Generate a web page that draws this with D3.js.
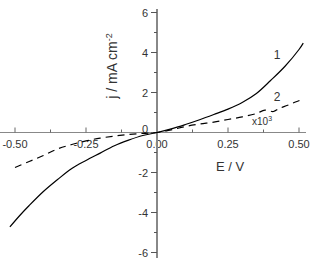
<!DOCTYPE html>
<html>
<head>
<meta charset="utf-8">
<script src="https://cdn.jsdelivr.net/npm/d3@7"></script>
<style>
  body { margin: 0; background: #fff; }
  svg text { font-family: "Liberation Sans", Arial, sans-serif; fill: #333; }
</style>
</head>
<body>
<svg id="chart"></svg>
<script>
let w = 313;
let h = 258;

// curve 1 (solid) and curve 2 (dashed, x10^3)
let e1 = [-0.518, -0.48, -0.45, -0.40, -0.35, -0.30, -0.25, -0.20, -0.15, -0.10, -0.05, 0, 0.05, 0.10, 0.15, 0.20, 0.25, 0.30, 0.35, 0.40, 0.45, 0.50, 0.515];
let j1 = [-4.72, -4.1, -3.65, -2.95, -2.35, -1.8, -1.4, -1.03, -0.66, -0.38, -0.15, 0, 0.18, 0.4, 0.64, 0.9, 1.17, 1.5, 1.95, 2.6, 3.3, 4.15, 4.47];
let e2 = [-0.50, -0.45, -0.40, -0.35, -0.30, -0.25, -0.20, -0.15, -0.10, -0.05, 0, 0.05, 0.10, 0.15, 0.20, 0.25, 0.30, 0.35, 0.38, 0.41, 0.43, 0.46, 0.49, 0.515];
let j2 = [-1.75, -1.45, -1.15, -0.82, -0.6, -0.42, -0.28, -0.18, -0.1, -0.04, 0, 0.13, 0.3, 0.42, 0.52, 0.65, 0.78, 0.95, 1.12, 1.05, 1.2, 1.36, 1.54, 1.67];

let xTicks = [-0.5, -0.25, 0, 0.25, 0.5];
let xMinor = [-0.375, -0.125, 0.125, 0.375];
let yTicks = [-6, -4, -2, 0, 2, 4, 6];
let yMinor = [-5, -3, -1, 1, 3, 5];

let x = d3.scaleLinear().domain([-0.5, 0.5]).range([15, 299]);
let y = d3.scaleLinear().domain([-6, 6]).range([252.5, 12.5]);

let svg = d3.select('#chart')
    .attr('width', w)
    .attr('height', h);

// x axis (ticks pointing up, labels below)
let gx = svg.append('g')
    .attr('transform', `translate(0, ${y(0)})`);
gx.append('line')
    .attr('x1', 0).attr('x2', 306)
    .attr('stroke', '#888').attr('stroke-width', 1);
gx.selectAll('.maj').data(xTicks).enter().append('line')
    .attr('x1', d => x(d)).attr('x2', d => x(d))
    .attr('y1', 0).attr('y2', -5)
    .attr('stroke', '#666');
gx.selectAll('.min').data(xMinor).enter().append('line')
    .attr('x1', d => x(d)).attr('x2', d => x(d))
    .attr('y1', 0).attr('y2', -3)
    .attr('stroke', '#666');
gx.selectAll('text').data(xTicks).enter().append('text')
    .attr('x', d => x(d))
    .attr('y', 15)
    .attr('text-anchor', 'middle')
    .attr('font-size', 11)
    .text(d => d3.format('.2f')(d).replace('−', '-'));

// y axis (ticks left)
let gy = svg.append('g')
    .attr('transform', `translate(${x(0)}, 0)`);
gy.append('line')
    .attr('y1', 9).attr('y2', h)
    .attr('stroke', '#888').attr('stroke-width', 2);
gy.selectAll('.maj').data(yTicks).enter().append('line')
    .attr('x1', -6).attr('x2', 0)
    .attr('y1', d => y(d)).attr('y2', d => y(d))
    .attr('stroke', '#555');
gy.selectAll('.min').data(yMinor).enter().append('line')
    .attr('x1', -3).attr('x2', 0)
    .attr('y1', d => y(d)).attr('y2', d => y(d))
    .attr('stroke', '#555');
gy.selectAll('text').data(yTicks).enter().append('text')
    .attr('x', -9)
    .attr('y', d => y(d) + (d === 0 ? 0 : 4))
    .attr('text-anchor', 'end')
    .attr('font-size', 11)
    .text(d => d);

// axis titles
svg.append('text')
    .attr('x', 230).attr('y', 171)
    .attr('text-anchor', 'middle')
    .attr('font-size', 13)
    .text('E / V');

let yt = svg.append('text')
    .attr('transform', 'translate(117, 66) rotate(-90)')
    .attr('text-anchor', 'middle')
    .attr('font-size', 14);
yt.append('tspan').text('j / mA cm');
yt.append('tspan').attr('dy', -5).attr('font-size', 9).text('-2');

// curves
let line = d3.line()
    .x(d => x(d[0]))
    .y(d => y(d[1]))
    .curve(d3.curveCatmullRom);

svg.append('path')
    .datum(e1.map((e, i) => [e, j1[i]]))
    .attr('d', line)
    .attr('fill', 'none')
    .attr('stroke', '#000')
    .attr('stroke-width', 1.2);

svg.append('path')
    .datum(e2.map((e, i) => [e, j2[i]]))
    .attr('d', line)
    .attr('fill', 'none')
    .attr('stroke', '#000')
    .attr('stroke-width', 1.2)
    .attr('stroke-dasharray', '7,5');

// curve labels
svg.append('text').attr('x', 277).attr('y', 59)
    .attr('text-anchor', 'middle').attr('font-size', 12).text('1');
svg.append('text').attr('x', 277).attr('y', 101)
    .attr('text-anchor', 'middle').attr('font-size', 12).text('2');
let xl = svg.append('text').attr('x', 252).attr('y', 125)
    .attr('font-size', 10);
xl.append('tspan').text('x10');
xl.append('tspan').attr('dy', -4).attr('font-size', 7).text('3');
</script>
</body>
</html>
